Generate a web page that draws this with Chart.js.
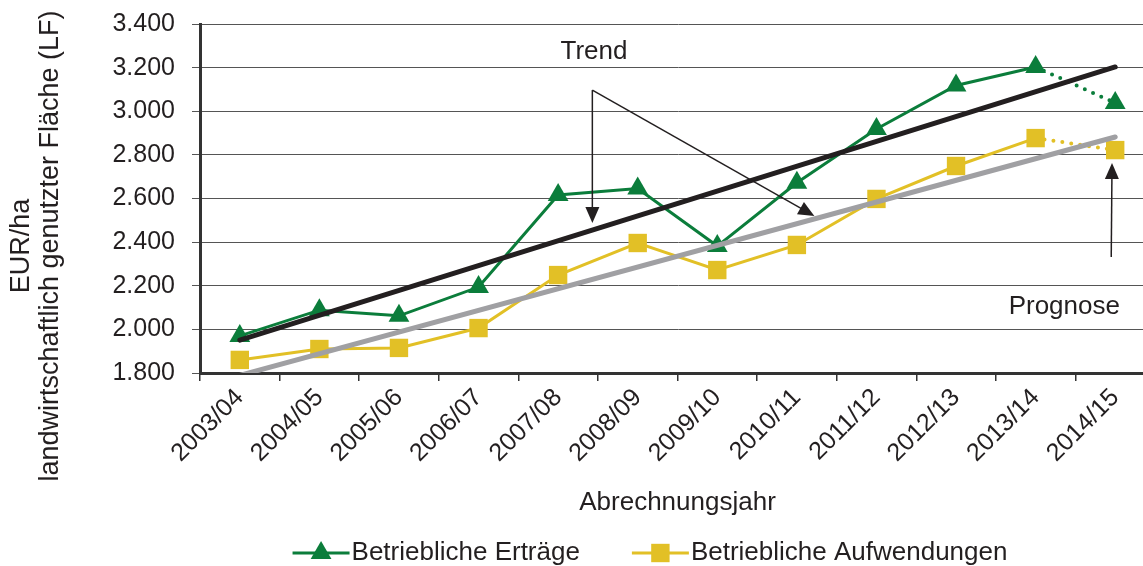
<!DOCTYPE html>
<html>
<head>
<meta charset="utf-8">
<script src="https://cdn.jsdelivr.net/npm/chart.js@4/dist/chart.umd.min.js"></script>
<style>
  html, body { margin: 0; padding: 0; background: #fff; overflow: hidden; }
  #wrap { position: absolute; left: 0; top: 0; width: 1168px; height: 566px; }
</style>
</head>
<body>
<div id="wrap"><canvas id="chart"></canvas></div>
<script>
// data
const years = ["2003/04", "2004/05", "2005/06", "2006/07", "2007/08", "2008/09",
  "2009/10", "2010/11", "2011/12", "2012/13", "2013/14", "2014/15"];
const ertraege = [1970, 2088, 2062, 2194, 2616, 2646, 2382, 2672, 2919, 3118, 3203, 3038];
const aufwendungen = [1860, 1910, 1915, 2006, 2249, 2396, 2272, 2387, 2598, 2749, 2877, 2822];
const trendErtraege = [1951, null, null, null, null, null, null, null, null, null, null, 3203];
const trendAufwendungen = [1789, null, null, null, null, null, null, null, null, null, null, 2882];
const yTicks = { min: 1800, max: 3400, step: 200 };

// annotation anchors in data space (category index, EUR/ha)
const trendNote = { text: "Trend", x: 4.45, y: 3272 };
const trendArrows = [
  { from: [4.43, 3097], to: [4.43, 2488] },
  { from: [4.43, 3097], to: [7.22, 2520] },
];
const prognoseNote = { text: "Prognose", x: 10.36, y: 2103 };
const prognoseArrows = [{ from: [10.95, 2332], to: [10.96, 2763] }];

const GREEN = "#0b7d3b";
const YELLOW = "#e2c026";
const FONT = "'Liberation Sans', Arial, sans-serif";
const TXT = "#231f20";

const fmt = (v) => String(v).replace(/\B(?=(\d{3})+(?!\d))/g, ".");

// last segment is the forecast -> dotted
const forecastSeg = {
  borderDash: (c) => (c.p1DataIndex === years.length - 1 ? [0, 9] : undefined),
  borderCapStyle: (c) => (c.p1DataIndex === years.length - 1 ? "round" : undefined),
  borderWidth: (c) => (c.p1DataIndex === years.length - 1 ? 4 : undefined),
};

function arrow(ctx, x1, y1, x2, y2) {
  const a = Math.atan2(y2 - y1, x2 - x1);
  const len = 16, half = 7;
  ctx.beginPath();
  ctx.moveTo(x1, y1);
  ctx.lineTo(x2 - Math.cos(a) * len * 0.8, y2 - Math.sin(a) * len * 0.8);
  ctx.stroke();
  ctx.beginPath();
  ctx.moveTo(x2, y2);
  ctx.lineTo(x2 - Math.cos(a) * len - Math.sin(a) * half, y2 - Math.sin(a) * len + Math.cos(a) * half);
  ctx.lineTo(x2 - Math.cos(a) * len + Math.sin(a) * half, y2 - Math.sin(a) * len - Math.cos(a) * half);
  ctx.closePath();
  ctx.fill();
}

const extras = {
  id: "extras",
  afterDraw(chart) {
    const { ctx } = chart;
    const xs = chart.scales.x, ys = chart.scales.y;
    ctx.save();
    ctx.fillStyle = TXT;
    ctx.strokeStyle = TXT;
    ctx.textAlign = "center";
    ctx.textBaseline = "middle";

    // y axis title, two lines
    ctx.font = "27px " + FONT;
    ctx.save();
    ctx.translate(0, 246);
    ctx.rotate(-Math.PI / 2);
    ctx.fillText("EUR/ha", 0, 22);
    ctx.fillText("landwirtschaftlich genutzter Fläche (LF)", 0, 51);
    ctx.restore();

    // notes + arrows
    ctx.font = "26px " + FONT;
    const notes = [[trendNote, trendArrows], [prognoseNote, prognoseArrows]];
    notes.forEach(([n, arrows]) => {
      ctx.fillText(n.text, xs.getPixelForValue(n.x), ys.getPixelForValue(n.y));
      ctx.lineWidth = 1.5;
      arrows.forEach((a) => {
        arrow(ctx,
          xs.getPixelForValue(a.from[0]), ys.getPixelForValue(a.from[1]),
          xs.getPixelForValue(a.to[0]), ys.getPixelForValue(a.to[1]));
      });
    });

    // legend: line + marker + label
    const items = [
      { label: "Betriebliche Erträge", color: GREEN, style: "triangle", r: 12 },
      { label: "Betriebliche Aufwendungen", color: YELLOW, style: "rect", r: 13 },
    ];
    const lineLen = 57, gap = 2, between = 52;
    const widths = items.map((it) => lineLen + gap + ctx.measureText(it.label).width);
    const total = widths.reduce((s, w) => s + w, 0) + between;
    let x = 650 - total / 2;
    const y = chart.height - 13;
    items.forEach((it, i) => {
      ctx.strokeStyle = it.color;
      ctx.fillStyle = it.color;
      ctx.lineWidth = 3;
      ctx.beginPath();
      ctx.moveTo(x, y);
      ctx.lineTo(x + lineLen, y);
      ctx.stroke();
      Chart.helpers.drawPoint(ctx, { pointStyle: it.style, radius: it.r, borderWidth: 0 }, x + lineLen / 2, y);
      ctx.fillStyle = TXT;
      ctx.textAlign = "left";
      ctx.fillText(it.label, x + lineLen + gap, y);
      x += widths[i] + between;
    });
    ctx.restore();
  },
};

new Chart(document.getElementById("chart"), {
  type: "line",
  data: {
    labels: years,
    datasets: [
      {
        label: "Trend Erträge",
        data: trendErtraege,
        spanGaps: true,
        borderColor: "#231f20",
        borderWidth: 5,
        borderCapStyle: "round",
        pointRadius: 0,
        clip: 0,
      },
      {
        label: "Trend Aufwendungen",
        data: trendAufwendungen,
        spanGaps: true,
        borderColor: "#a0a0a3",
        borderWidth: 5,
        borderCapStyle: "round",
        pointRadius: 0,
        clip: 0,
      },
      {
        label: "Betriebliche Erträge",
        data: ertraege,
        borderColor: GREEN,
        backgroundColor: GREEN,
        borderWidth: 3,
        pointStyle: "triangle",
        pointRadius: 12,
        pointBorderWidth: 0,
        segment: forecastSeg,
      },
      {
        label: "Betriebliche Aufwendungen",
        data: aufwendungen,
        borderColor: YELLOW,
        backgroundColor: YELLOW,
        borderWidth: 3,
        pointStyle: "rect",
        pointRadius: 13,
        pointBorderWidth: 0,
        segment: forecastSeg,
      },
    ],
  },
  options: {
    responsive: true,
    maintainAspectRatio: false,
    animation: false,
    layout: { padding: { top: 24, right: 0, bottom: 48, left: 0 } },
    plugins: { legend: { display: false }, tooltip: { enabled: false } },
    scales: {
      x: {
        offset: true,
        grid: { offset: true, drawOnChartArea: false, tickLength: 8, color: "#333", lineWidth: 1.5 },
        border: { color: "#333", width: 3 },
        ticks: {
          minRotation: 45,
          maxRotation: 45,
          padding: 2,
          color: TXT,
          font: { family: FONT, size: 25 },
        },
        title: {
          display: true,
          text: "Abrechnungsjahr",
          color: TXT,
          font: { family: FONT, size: 26 },
          padding: { top: 4, bottom: 0 },
        },
        afterFit: (s) => { s.height = 145; },
      },
      y: {
        min: yTicks.min,
        max: yTicks.max,
        grid: { color: "#555", lineWidth: 1, tickLength: 8 },
        border: { color: "#333", width: 3 },
        ticks: {
          stepSize: yTicks.step,
          padding: 17,
          color: TXT,
          font: { family: FONT, size: 25 },
          callback: (v) => fmt(v),
        },
        afterFit: (s) => { s.width = 200; s.paddingTop = 0; s.paddingBottom = 0; },
      },
    },
  },
  plugins: [extras],
});
</script>
</body>
</html>
